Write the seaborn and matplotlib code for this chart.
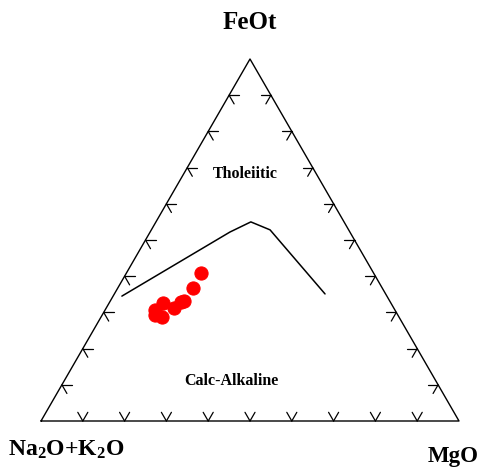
import numpy as np
import pandas as pd
import matplotlib
matplotlib.use("Agg")
import matplotlib.pyplot as plt
import seaborn as sns

# AFM ternary diagram: A = Na2O+K2O (left), F = FeOt (top), M = MgO (right)
sns.set_theme(style="white")
plt.rcParams['font.family'] = ['Liberation Serif', 'DejaVu Serif']
plt.rcParams['font.weight'] = 'bold'
plt.rcParams['text.color'] = 'black'
plt.rcParams['mathtext.fontset'] = 'custom'
plt.rcParams['mathtext.rm'] = 'Liberation Serif:bold'
plt.rcParams['mathtext.bf'] = 'Liberation Serif:bold'
plt.rcParams['mathtext.default'] = 'bf'

# samples (wt% proportions)
sample_A = [41.3, 45.3, 49.1, 50.2, 52.5, 54.5, 57.3, 58.0, 56.7]
sample_F = [40.8, 36.8, 33.2, 32.8, 31.3, 32.5, 30.7, 29.3, 28.8]
sample_M = [17.9, 17.9, 17.7, 17.0, 16.2, 13.0, 12.0, 12.7, 14.5]

# Irvine & Baragar tholeiitic / calc-alkaline boundary
boundary_A = [63.4, 28.7, 22.3, 18.8, 14.5]
boundary_F = [34.5, 52.2, 55.0, 52.8, 35.1]
boundary_M = [2.1, 19.1, 22.7, 28.4, 50.4]

SQ3 = np.sqrt(3) / 2


def to_xy(a, f, m):
    a, f, m = np.asarray(a, float), np.asarray(f, float), np.asarray(m, float)
    tot = a + f + m
    return (m + f / 2) / tot, f * SQ3 / tot


def main():
    sx, sy = to_xy(sample_A, sample_F, sample_M)
    samples = pd.DataFrame({'x': sx, 'y': sy})
    bx, by = to_xy(boundary_A, boundary_F, boundary_M)
    boundary = pd.DataFrame({'x': bx, 'y': by})

    fig = plt.figure(figsize=(4.81, 4.68), dpi=100)
    ax = fig.add_axes([0, 0, 1, 1])
    ax.set_xlim(-41 / 418, 440 / 418)
    ax.set_ylim(-47 / 418, 421 / 418)

    # triangle frame
    ax.plot([0, 1, 0.5, 0], [0, 0, SQ3, 0], color='black', lw=1.0)

    # inward ticks along the grid directions
    L = 0.024
    for i in range(1, 10):
        t = i / 10
        # bottom edge
        px, py = t, 0
        for ang in (60, 120):
            r = np.radians(ang)
            ax.plot([px, px + L * np.cos(r)], [py, py + L * np.sin(r)], color='black', lw=0.9)
        # left edge
        px, py = t / 2, t * SQ3
        for ang in (0, -60):
            r = np.radians(ang)
            ax.plot([px, px + L * np.cos(r)], [py, py + L * np.sin(r)], color='black', lw=0.9)
        # right edge
        px, py = 1 - t / 2, t * SQ3
        for ang in (180, 240):
            r = np.radians(ang)
            ax.plot([px, px + L * np.cos(r)], [py, py + L * np.sin(r)], color='black', lw=0.9)

    sns.lineplot(data=boundary, x='x', y='y', sort=False, color='black', lw=1.1, ax=ax)
    sns.scatterplot(data=samples, x='x', y='y', color='red', edgecolor='red', s=90, ax=ax, zorder=5)
    ax.axis('off')

    ax.text(0.5, 0.9545, 'FeOt', ha='center', va='center', fontsize=18, fontweight='bold')
    ax.text(0.061, -0.069, r'Na$_2$O+K$_2$O', ha='center', va='center', fontsize=17, fontweight='bold')
    ax.text(1.046, -0.084, 'MgO', ha='right', va='center', fontsize=16.5, fontweight='bold')
    ax.text(0.489, 0.591, 'Tholeiitic', ha='center', va='center', fontsize=11.5, fontweight='bold')
    ax.text(0.4545, 0.0957, 'Calc-Alkaline', ha='center', va='center', fontsize=11.5, fontweight='bold')

    fig.savefig('out.png', dpi=100)


if __name__ == '__main__':
    main()
